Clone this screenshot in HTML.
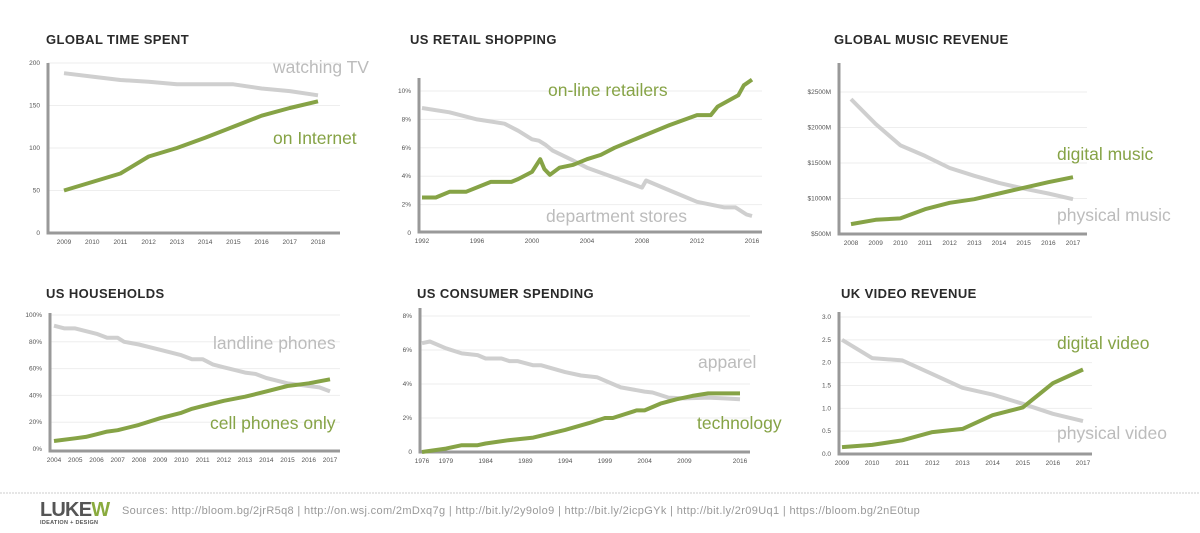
<!DOCTYPE html>
<html><head><meta charset="utf-8">
<style>
body{margin:0;width:1200px;height:533px;background:#fff;overflow:hidden;font-family:"Liberation Sans",sans-serif}
svg{position:absolute;left:0;top:0}
.title{font-weight:bold;font-size:13px;fill:#2a2a2a;letter-spacing:0.4px}
.tick{font-size:6.5px;fill:#555}
.lbl{font-size:17.5px}
</style></head><body>
<svg id="s" width="1200" height="533">
<line x1="0" y1="493" x2="1200" y2="493" stroke="#ccc" stroke-dasharray="2,1"/>
<g>
<text x="40" y="516" font-size="20" font-weight="bold" fill="#555" letter-spacing="-0.8">LUKE<tspan fill="#8aab3e">W</tspan></text>
<text x="40" y="524" font-size="5.5" font-weight="bold" fill="#555" letter-spacing="0.3">IDEATION + DESIGN</text>
</g>
<text x="122" y="514" font-size="11" fill="#999" letter-spacing="0.35">Sources: http://bloom.bg/2jrR5q8 |  http://on.wsj.com/2mDxq7g  |  http://bit.ly/2y9olo9  |  http://bit.ly/2icpGYk  |  http://bit.ly/2r09Uq1  |  https://bloom.bg/2nE0tup</text>
</svg>
<script>
// Chart 1: Global time spent
const c1X=[2009,2010,2011,2012,2013,2014,2015,2016,2017,2018];
const c1TV=[188,184,180,178,175,175,175,170,167,162];
const c1Net=[50,60,70,90,100,112,125,138,147,155];
const c1Ticks=["0","50","100","150","200"];
// Chart 2: US retail shopping
const c2DX=[1992,1994,1996,1997,1998,1999,2000,2000.5,2001,2001.5,2003,2004,2006,2008,2008.3,2010,2012,2014,2014.8,2015.6,2016];
const c2Dept=[8.8,8.5,8.0,7.85,7.7,7.2,6.6,6.5,6.2,5.8,5.1,4.6,3.9,3.2,3.7,3.0,2.2,1.8,1.8,1.3,1.2];
const c2OX=[1992,1993,1994,1995.2,1997,1998.5,1999,2000,2000.6,2000.9,2001.3,2002,2003,2004,2005,2006,2008,2010,2012,2013,2013.5,2015,2015.4,2016];
const c2Online=[2.5,2.5,2.9,2.9,3.6,3.6,3.8,4.3,5.2,4.5,4.1,4.6,4.8,5.2,5.5,6.0,6.8,7.6,8.3,8.3,8.9,9.7,10.4,10.8];
const c2Ticks=["0","2%","4%","6%","8%","10%"];
const c2XT=["1992","1996","2000","2004","2008","2012","2016"];
// Chart 3: Global music revenue
const c3X=[2008,2009,2010,2011,2012,2013,2014,2015,2016,2017];
const c3Phys=[2400,2050,1750,1600,1430,1320,1220,1140,1070,990];
const c3Dig=[640,700,720,850,940,990,1070,1150,1230,1300];
const c3Ticks=["$500M","$1000M","$1500M","$2000M","$2500M"];
// Chart 4: US households
const c4LX=[2004,2004.5,2005,2006,2006.5,2007,2007.3,2008,2009,2010,2010.5,2011,2011.5,2012,2012.5,2013,2013.5,2014,2015,2016,2016.5,2017];
const c4Land=[92,90,90,86,83,83,80,78,74,70,67,67,63,61,59,57,56,53,49,47,46,43];
const c4CX=[2004,2005,2005.5,2006,2006.5,2007,2008,2009,2010,2010.5,2011,2011.5,2012,2013,2013.5,2014,2015,2015.5,2016,2017];
const c4Cell=[6,8,9,11,13,14,18,23,27,30,32,34,36,39,41,43,47,48,49,52];
const c4Ticks=["0%","20%","40%","60%","80%","100%"];
// Chart 5: US consumer spending
const c5AX=[1976,1977,1979,1981,1983,1984,1986,1987,1988,1990,1991,1994,1996,1998,1999,2001,2004,2005,2007,2009,2012,2014,2016];
const c5App=[6.4,6.5,6.1,5.8,5.7,5.5,5.5,5.35,5.35,5.1,5.1,4.7,4.5,4.4,4.2,3.8,3.55,3.5,3.2,3.15,3.2,3.15,3.1];
const c5TX=[1976,1979,1981,1983,1984,1987,1990,1994,1997,1999,2000,2003,2004,2006,2008,2010,2012,2016];
const c5Tech=[0,0.2,0.4,0.4,0.5,0.7,0.85,1.3,1.7,2.0,2.0,2.45,2.45,2.85,3.1,3.3,3.45,3.45];
const c5Ticks=["0","2%","4%","6%","8%"];
const c5XT=["1976","1979","1984","1989","1994","1999","2004","2009","2016"];
// Chart 6: UK video revenue
const c6X=[2009,2010,2011,2012,2013,2014,2015,2016,2017];
const c6Phys=[2.5,2.1,2.05,1.75,1.45,1.3,1.1,0.88,0.72];
const c6Dig=[0.15,0.2,0.3,0.48,0.55,0.85,1.02,1.55,1.85];
const c6Ticks=["0.0","0.5","1.0","1.5","2.0","2.5","3.0"];

const NS="http://www.w3.org/2000/svg";
const S=document.getElementById('s');
function mk(tag,a,p){const e=document.createElementNS(NS,tag);for(const k in a)e.setAttribute(k,a[k]);(p||S).appendChild(e);return e;}
function chart(o){
  const g=mk('g',{});
  
  
  const sx=v=>o.x0+(v-o.d0)/(o.d1-o.d0)*(o.x1-o.x0);
  const sy=v=>o.y0-(v-o.v0)/(o.v1-o.v0)*(o.y0-o.y1);
  const t=mk('text',{x:o.tx,y:o.ty,class:'title'},g);t.textContent=o.title;
  
  
  o.yt.forEach((lab,i)=>{const v=o.v0+i*o.ystep;const y=sy(v);
    if(i>0){const gl=mk('line',{x1:o.ax,x2:o.gx,y1:y,y2:y,stroke:'#eee','stroke-width':1},g);
      
      }
    const tt=mk('text',{x:o.ax-8,y:y+2,class:'tick','text-anchor':'end'},g);tt.textContent=lab;
    
    });
  o.xt.forEach(lab=>{const tt=mk('text',{x:sx(+lab),y:o.by+11,class:'tick','text-anchor':'middle'},g);tt.textContent=lab;
    
    });
  const ax=mk('path',{d:`M${o.ax},${o.atop}V${o.by}H${o.gx}`,stroke:'#999','stroke-width':3,fill:'none'},g);
  
  
  o.series.forEach(s=>{
    const d=s.xs.map((x,i)=>(i?'L':'M')+sx(x).toFixed(1)+','+sy(s.ys[i]).toFixed(1)).join('');
    const p=mk('path',{d,stroke:s.c,'stroke-width':4,fill:'none','stroke-linejoin':'round'},g);
    
    
    const l=mk('text',{x:s.lx,y:s.ly,class:'lbl',fill:s.c==GR?'#bcbcbc':s.c},g);l.textContent=s.n;
    
    
  });
}
const G='#86a346',GR='#cfcfcf';
chart({name:'global-time-spent-chart',title:'GLOBAL TIME SPENT',tx:46,ty:44,x0:64,x1:318,d0:2009,d1:2018,y0:233,y1:63,v0:0,v1:200,ystep:50,yt:c1Ticks,xt:c1X.map(String),ax:48,atop:63,by:233,gx:340,
 series:[{xs:c1X,ys:c1TV,c:GR,n:'watching TV',lx:273,ly:73},{xs:c1X,ys:c1Net,c:G,n:'on Internet',lx:273,ly:144}]});
chart({name:'us-retail-shopping-chart',title:'US RETAIL SHOPPING',tx:410,ty:44,x0:422,x1:752,d0:1992,d1:2016,y0:233,y1:91,v0:0,v1:10,ystep:2,yt:c2Ticks,xt:c2XT,ax:419,atop:78,by:232,gx:762,
 series:[{xs:c2DX,ys:c2Dept,c:GR,n:'department stores',lx:546,ly:222},{xs:c2OX,ys:c2Online,c:G,n:'on-line retailers',lx:548,ly:96}]});
chart({name:'global-music-revenue-chart',title:'GLOBAL MUSIC REVENUE',tx:834,ty:44,x0:851,x1:1073,d0:2008,d1:2017,y0:234,y1:92,v0:500,v1:2500,ystep:500,yt:c3Ticks,xt:c3X.map(String),ax:839,atop:63,by:234,gx:1087,
 series:[{xs:c3X,ys:c3Phys,c:GR,n:'physical music',lx:1057,ly:221},{xs:c3X,ys:c3Dig,c:G,n:'digital music',lx:1057,ly:160}]});
chart({name:'us-households-chart',title:'US HOUSEHOLDS',tx:46,ty:298,x0:54,x1:330,d0:2004,d1:2017,y0:449,y1:315,v0:0,v1:100,ystep:20,yt:c4Ticks,xt:["2004","2005","2006","2007","2008","2009","2010","2011","2012","2013","2014","2015","2016","2017"],ax:50,atop:313,by:451,gx:340,
 series:[{xs:c4LX,ys:c4Land,c:GR,n:'landline phones',lx:213,ly:349},{xs:c4CX,ys:c4Cell,c:G,n:'cell phones only',lx:210,ly:429}]});
chart({name:'us-consumer-spending-chart',title:'US CONSUMER SPENDING',tx:417,ty:298,x0:422,x1:740,d0:1976,d1:2016,y0:452,y1:316,v0:0,v1:8,ystep:2,yt:c5Ticks,xt:c5XT,ax:420,atop:308,by:452,gx:750,
 series:[{xs:c5AX,ys:c5App,c:GR,n:'apparel',lx:698,ly:368},{xs:c5TX,ys:c5Tech,c:G,n:'technology',lx:697,ly:429}]});
chart({name:'uk-video-revenue-chart',title:'UK VIDEO REVENUE',tx:841,ty:298,x0:842,x1:1083,d0:2009,d1:2017,y0:454,y1:317,v0:0,v1:3,ystep:0.5,yt:c6Ticks,xt:c6X.map(String),ax:839,atop:312,by:454,gx:1092,
 series:[{xs:c6X,ys:c6Phys,c:GR,n:'physical video',lx:1057,ly:439},{xs:c6X,ys:c6Dig,c:G,n:'digital video',lx:1057,ly:349}]});
</script>
</body></html>
